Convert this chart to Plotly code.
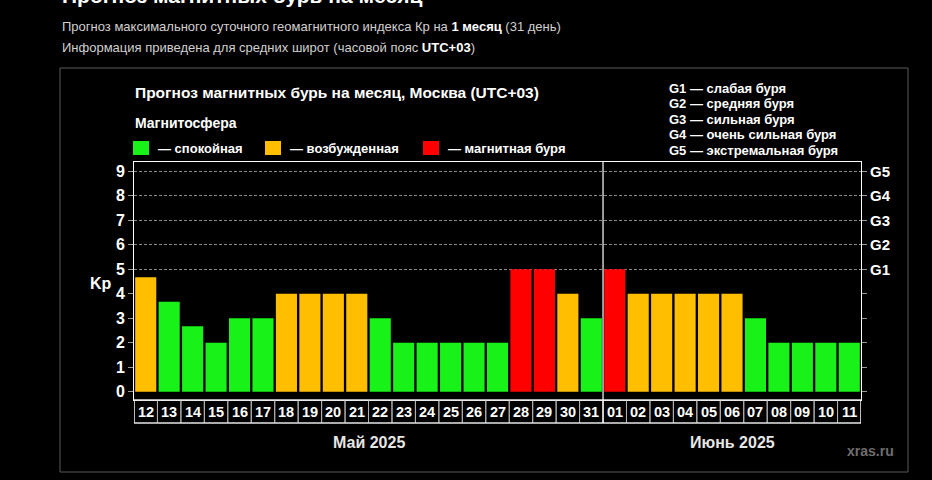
import plotly.graph_objects as go

days = ["12","13","14","15","16","17","18","19","20","21","22","23","24","25","26","27","28","29","30","31",
        "01","02","03","04","05","06","07","08","09","10","11"]
kp = [4.67,3.67,2.67,2,3,3,4,4,4,4,3,2,2,2,2,2,5,5,4,3,
      5,4,4,4,4,4,3,2,2,2,2]
status = ["y","g","g","g","g","g","y","y","y","y","g","g","g","g","g","g","r","r","y","g",
          "r","y","y","y","y","y","g","g","g","g","g"]
months = ["Май 2025", "Июнь 2025"]
month_counts = [20, 11]
kp_ticks = [0,1,2,3,4,5,6,7,8,9]
g_labels = ["","","","","","G1","G2","G3","G4","G5"]
g_levels = [5,6,7,8,9]
g_desc = ["G1 — слабая буря","G2 — средняя буря","G3 — сильная буря",
          "G4 — очень сильная буря","G5 — экстремальная буря"]
legend_keys = ["g","y","r"]
legend_text = ["— спокойная","— возбужденная","— магнитная буря"]
palette = {"g": "#19f219", "y": "#ffbf00", "r": "#ff0000"}

W, H = 932, 480
L, R, T, B = 134, 861, 162, 400
def px(x): return (x - L) / (R - L)
def py(y): return (B - y) / (B - T)

FONT = "Liberation Sans, Arial, sans-serif"
x_idx = list(range(len(days)))

fig = go.Figure()
fig.add_trace(go.Bar(x=x_idx, y=kp, marker=dict(color=[palette[s] for s in status], line=dict(width=0)),
                     yaxis="y", hoverinfo="skip", showlegend=False))
fig.add_trace(go.Scatter(x=[0], y=[0], yaxis="y2", mode="markers", marker=dict(opacity=0),
                         showlegend=False, hoverinfo="skip"))
fig.add_trace(go.Scatter(x=[0], y=[0], yaxis="y3", mode="markers", marker=dict(opacity=0),
                         showlegend=False, hoverinfo="skip"))

yr = [-0.34, 9.38]
shapes = []
annotations = []

shapes.append(dict(type="rect", xref="paper", yref="paper", x0=px(60), x1=px(908), y0=py(472), y1=py(68),
                   line=dict(color="#5a5a5a", width=1), layer="below"))

lab_bot = py(423)
for i in x_idx:
    shapes.append(dict(type="rect", xref="x", yref="paper", x0=i-0.5, x1=i+0.5, y0=lab_bot, y1=0,
                       line=dict(color="#b0b0b0", width=1)))
shapes.append(dict(type="rect", xref="x", yref="paper", x0=-0.5, x1=len(days)-0.5, y0=lab_bot, y1=0,
                   line=dict(color="#ffffff", width=1.2)))
start = 0
centers = []
for m, c in zip(months, month_counts):
    centers.append(start + (c - 1) / 2)
    start += c
    if start < len(days):
        shapes.append(dict(type="line", xref="x", yref="paper", x0=start-0.5, x1=start-0.5, y0=lab_bot, y1=1,
                           line=dict(color="#ffffff", width=1.2)))
for m, cx in zip(months, centers):
    annotations.append(dict(x=cx, y=py(442), xref="x", yref="paper", text="<b>%s</b>" % m, showarrow=False,
                            font=dict(family=FONT, size=16, color="#e6e6e6"), xanchor="center", yanchor="middle"))

for i, d in enumerate(days):
    annotations.append(dict(x=i, y=py(411.5), xref="x", yref="paper", text="<b>%s</b>" % d, showarrow=False,
                            font=dict(family=FONT, size=14.5, color="#ffffff"), xanchor="center", yanchor="middle"))

annotations.append(dict(x=px(60), y=py(-4.5), xref="paper", yref="paper", xanchor="left", yanchor="middle",
                        text="<b>Прогноз магнитных бурь на месяц</b>", showarrow=False,
                        font=dict(family=FONT, size=21, color="#ffffff")))
annotations.append(dict(x=px(60), y=py(26), xref="paper", yref="paper", xanchor="left", yanchor="middle",
                        text="Прогноз максимального суточного геомагнитного индекса Кр на <b><span style='color:#fff'>1 месяц</span></b> (31 день)",
                        showarrow=False, font=dict(family=FONT, size=13, color="#d0d0d0")))
annotations.append(dict(x=px(60), y=py(48), xref="paper", yref="paper", xanchor="left", yanchor="middle",
                        text="Информация приведена для средних широт (часовой пояс <b><span style='color:#fff'>UTC+03</span></b>)",
                        showarrow=False, font=dict(family=FONT, size=13, color="#d0d0d0")))

annotations.append(dict(x=px(133), y=py(93), xref="paper", yref="paper", xanchor="left", yanchor="middle",
                        text="<b>Прогноз магнитных бурь на месяц, Москва (UTC+03)</b>", showarrow=False,
                        font=dict(family=FONT, size=15.5, color="#ffffff")))
annotations.append(dict(x=px(133), y=py(123), xref="paper", yref="paper", xanchor="left", yanchor="middle",
                        text="<b>Магнитосфера</b>", showarrow=False,
                        font=dict(family=FONT, size=14, color="#ffffff")))
sq_x = [133, 265, 423]
tx_x = [156, 288, 446]
for k, t, sx, tx in zip(legend_keys, legend_text, sq_x, tx_x):
    shapes.append(dict(type="rect", xref="paper", yref="paper", x0=px(sx), x1=px(sx+16), y0=py(155), y1=py(141),
                       fillcolor=palette[k], line=dict(width=0)))
    annotations.append(dict(x=px(tx), y=py(148), xref="paper", yref="paper", xanchor="left", yanchor="middle",
                            text="<b>%s</b>" % t, showarrow=False,
                            font=dict(family=FONT, size=13, color="#ffffff")))
g_y = [88, 103.5, 119, 134.5, 150]
for t, gy in zip(g_desc, g_y):
    annotations.append(dict(x=px(667), y=py(gy), xref="paper", yref="paper", xanchor="left", yanchor="middle",
                            text="<b>%s</b>" % t, showarrow=False,
                            font=dict(family=FONT, size=13, color="#ffffff")))
annotations.append(dict(x=px(101), y=py(283), xref="paper", yref="paper", xanchor="center", yanchor="middle",
                        text="<b>Kp</b>", showarrow=False, font=dict(family=FONT, size=16, color="#ffffff")))
annotations.append(dict(x=px(870), y=py(451), xref="paper", yref="paper", xanchor="center", yanchor="middle",
                        text="<b>xras.ru</b>", showarrow=False, font=dict(family=FONT, size=14, color="#6e6e6e")))

fig.update_layout(
    width=W, height=H,
    margin=dict(l=L, r=W-R, t=T, b=H-B, pad=0),
    paper_bgcolor="#000000", plot_bgcolor="#000000",
    bargap=0.1,
    showlegend=False,
    xaxis=dict(range=[-0.5, len(days)-0.5], showticklabels=False, ticks="", showgrid=False, zeroline=False,
               showline=True, linecolor="#ffffff", linewidth=1, mirror=True, fixedrange=True),
    yaxis=dict(range=yr, tickvals=kp_ticks, ticktext=["<b>%d</b>" % v for v in kp_ticks], showgrid=False, zeroline=False,
               ticks="outside", ticklen=5, tickcolor="#9a9a9a", tickwidth=1,
               tickfont=dict(family=FONT, size=16, color="#ffffff"),
               showline=True, linecolor="#ffffff", linewidth=1, mirror=True),
    yaxis2=dict(range=yr, overlaying="y", side="right", tickvals=kp_ticks, ticktext=["<b>%s</b>" % g if g else "" for g in g_labels],
                showgrid=False, zeroline=False, ticks="outside", ticklen=5, tickcolor="#9a9a9a", tickwidth=1,
                tickfont=dict(family=FONT, size=15, color="#ffffff"), showline=False),
    yaxis3=dict(range=yr, overlaying="y", side="left", tickvals=g_levels, showticklabels=False, ticks="",
                showgrid=True, gridcolor="#8a8a8a", gridwidth=1, griddash="3px,2px", zeroline=False, showline=False),
    shapes=shapes, annotations=annotations,
)

fig.write_html("out.html", config={"displayModeBar": False},
               post_script="document.body.style.margin='0';document.body.style.background='#000';")
